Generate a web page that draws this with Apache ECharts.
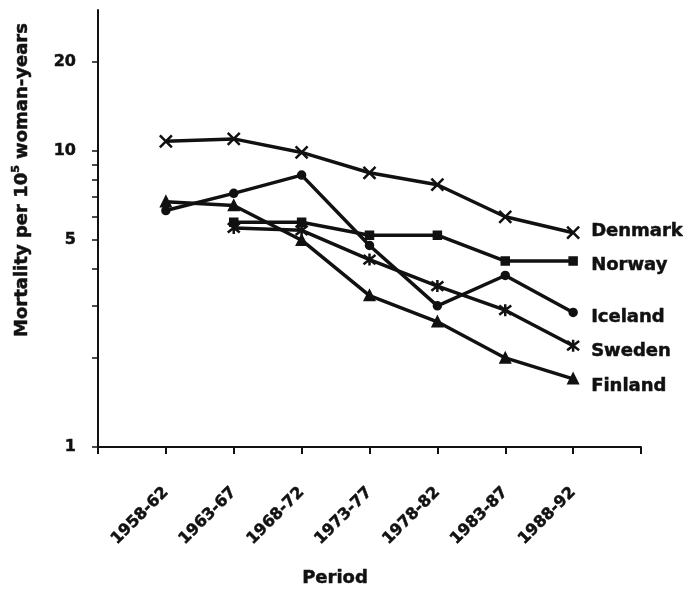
<!DOCTYPE html>
<html><head><meta charset="utf-8">
<script src="https://cdn.jsdelivr.net/npm/echarts@6/dist/echarts.min.js"></script>
<style>html,body{margin:0;padding:0;background:#fff}#c{width:688px;height:594px}</style>
</head><body><div id="c"></div>
<script>
const periods = ['1958-62','1963-67','1968-72','1973-77','1978-82','1983-87','1988-92'];
const denmark = [10.8, 11.0, 9.9, 8.45, 7.7, 6.0, 5.3];
const norway  = [null, 5.75, 5.75, 5.2, 5.2, 4.25, 4.25];
const iceland = [6.3, 7.2, 8.3, 4.8, 3.0, 3.8, 2.85];
const sweden  = [null, 5.5, 5.4, 4.3, 3.5, 2.9, 2.2];
const finland = [6.75, 6.55, 5.0, 3.25, 2.65, 2.0, 1.7];
const yTickValues  = [1,2,3,4,5,6,7,8,9,10,20];
const yLabelValues = [1,5,10,20];

const FONT = 'DejaVu Sans';
const INK = '#111';
const HEAVY = {textBorderColor: INK, textBorderWidth: 0.5};

function toPairs(vals){
  return vals.map((v,i)=>[i+1, v==null ? '-' : v]);
}
function mkSeries(name, vals, symbol, size, dy){
  return {
    name: name, type: 'line', data: toPairs(vals),
    symbol: symbol, symbolSize: size, showAllSymbol: true,
    lineStyle: {color: INK, width: 3.5},
    itemStyle: {color: INK, borderColor: INK, borderWidth: 2.5},
    emphasis: {disabled: true},
    endLabel: Object.assign({show: true, formatter: name, distance: 18, offset: [0, dy],
      fontFamily: FONT, fontWeight: 'bold', fontSize: 18, color: INK}, HEAVY),
    z: 3
  };
}

const chart = echarts.init(document.getElementById('c'), null, {renderer:'canvas'});
chart.setOption({
  animation: false,
  backgroundColor: '#fff',
  grid: {left: 98, right: 47, top: 10, bottom: 147, containLabel: false},
  xAxis: {
    type: 'value', min: 0, max: 8, interval: 1,
    axisLine: {show: true, lineStyle: {color: INK, width: 2}},
    axisTick: {show: true, length: 7, lineStyle: {color: INK, width: 2}},
    splitLine: {show: false},
    axisLabel: Object.assign({
      rotate: 45, margin: 43, fontFamily: FONT, fontWeight: 'bold', fontSize: 16, color: INK,
      formatter: v => periods[v-1] || ''
    }, HEAVY)
  },
  yAxis: {
    type: 'log', logBase: 10, min: 1, max: 30,
    axisLine: {show: true, lineStyle: {color: INK, width: 2}},
    axisTick: {show: true, length: 6, customValues: yTickValues, lineStyle: {color: INK, width: 1.5}},
    splitLine: {show: false},
    minorTick: {show: false},
    axisLabel: Object.assign({customValues: yLabelValues, margin: 22, fontFamily: FONT, fontWeight: 'bold', fontSize: 16, color: INK}, HEAVY)
  },
  graphic: [
    {type: 'text', x: 22, y: 180, rotation: Math.PI/2,
     style: {text: 'Mortality per 10{sup|5} woman-years', align: 'center', verticalAlign: 'middle',
       fontFamily: FONT, fontWeight: 'bold', fontSize: 18, fill: INK, lineHeight: 22,
       stroke: INK, lineWidth: 0.5,
       rich: {sup: {fontFamily: FONT, fontWeight: 'bold', fontSize: 11, verticalAlign: 'top', lineHeight: 22}}}},
    {type: 'text', x: 335, y: 578,
     style: {text: 'Period', align: 'center', verticalAlign: 'middle',
       fontFamily: FONT, fontWeight: 'bold', fontSize: 18, fill: INK, stroke: INK, lineWidth: 0.5}}
  ],
  series: [
    mkSeries('Denmark', denmark, 'path://M0,0L10,10M10,0L0,10', 12, -1),
    mkSeries('Norway', norway, 'rect', 7, 4),
    mkSeries('Iceland', iceland, 'circle', 7, 5),
    mkSeries('Sweden', sweden, 'path://M0,0L10,10M10,0L0,10M5,-1.5L5,11.5', 12, 5.5),
    mkSeries('Finland', finland, 'triangle', 9, 7.5)
  ]
});
</script></body></html>
